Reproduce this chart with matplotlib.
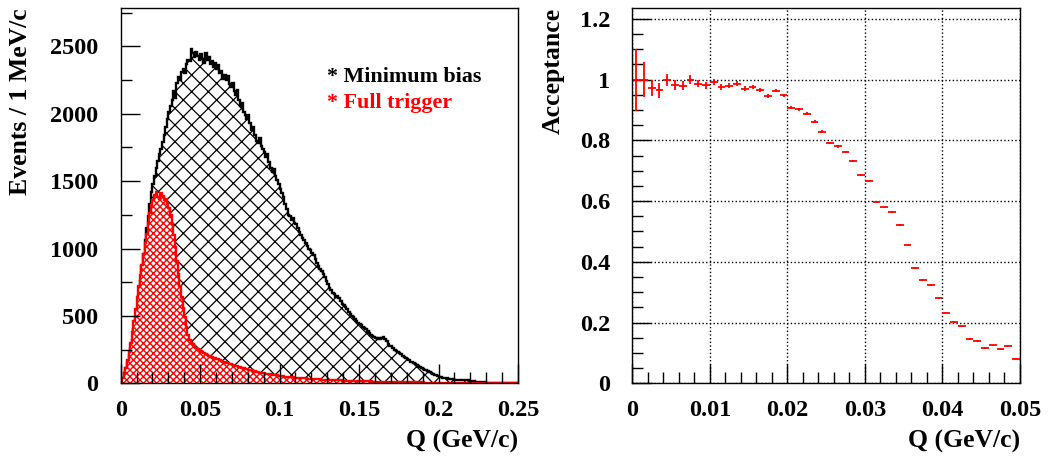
import numpy as np
import matplotlib.pyplot as plt
from matplotlib.ticker import MultipleLocator, FormatStrFormatter

# ROOT-like look: bold Times style text, inward ticks
plt.rcParams.update({
    'font.family': 'serif',
    'font.serif': ['Liberation Serif', 'DejaVu Serif'],
    'font.weight': 'bold',
    'axes.labelweight': 'bold',
    'font.size': 17.5,
    'axes.labelsize': 18.5,
    'axes.linewidth': 1.0,
    'hatch.linewidth': 0.9,
    'xtick.direction': 'in',
    'ytick.direction': 'in',
})

# ---- left panel: Q distributions, 1 MeV/c bins from 0 to 0.25 GeV/c ----
q_min, q_max, q_nbins = 0.0, 0.25, 250

min_bias = [
    15, 40, 75, 110, 160, 210, 265, 320, 400, 480,
    560, 650, 760, 860, 960, 1060, 1150, 1240, 1330, 1420,
    1480, 1540, 1600, 1650, 1700, 1740, 1790, 1840, 1900, 1960,
    2010, 2060, 2100, 2170, 2120, 2230, 2270, 2250, 2310, 2330,
    2300, 2370, 2400, 2390, 2480, 2450, 2420, 2460, 2430, 2400,
    2440, 2410, 2380, 2450, 2400, 2420, 2370, 2390, 2350, 2380,
    2330, 2360, 2300, 2320, 2260, 2290, 2250, 2280, 2220, 2200,
    2230, 2170, 2140, 2180, 2100, 2060, 2080, 2010, 1990, 1960,
    1990, 1930, 1880, 1900, 1840, 1800, 1780, 1820, 1760, 1740,
    1720, 1680, 1700, 1640, 1600, 1570, 1590, 1540, 1510, 1480,
    1440, 1410, 1380, 1330, 1290, 1250, 1240, 1210, 1230, 1190,
    1180, 1150, 1120, 1100, 1080, 1060, 1040, 1020, 1000, 990,
    970, 950, 920, 890, 870, 850, 830, 810, 790, 760,
    740, 710, 690, 670, 660, 640, 650, 630, 610, 590,
    580, 565, 550, 530, 515, 500, 490, 475, 460, 450,
    440, 430, 420, 410, 400, 385, 375, 360, 350, 340,
    335, 330, 335, 330, 335, 340, 330, 315, 295, 280,
    275, 265, 250, 240, 230, 225, 215, 205, 195, 190,
    180, 170, 160, 155, 148, 140, 135, 125, 120, 115,
    105, 100, 95, 90, 85, 78, 72, 65, 58, 52,
    48, 44, 42, 40, 38, 37, 35, 34, 32, 31,
    28, 27, 26, 25, 25, 24, 25, 24, 22, 20,
    18, 17, 15, 13, 11, 10, 9, 8, 7, 6,
    5, 5, 4, 4, 3, 3, 3, 2, 2, 2,
    2, 1, 1, 1, 1, 1, 1, 1, 0, 0,
]

full_trigger = [
    10, 40, 75, 115, 170, 230, 300, 380, 460, 550,
    640, 720, 800, 880, 960, 1040, 1110, 1190, 1260, 1320,
    1360, 1400, 1420, 1380, 1370, 1410, 1390, 1360, 1370, 1330,
    1300, 1250, 1180, 1100, 1010, 910, 810, 720, 640, 560,
    490, 420, 360, 320, 300, 290, 280, 265, 255, 250,
    240, 235, 225, 215, 210, 205, 200, 195, 190, 185,
    180, 178, 170, 165, 160, 155, 150, 150, 145, 140,
    135, 130, 128, 125, 120, 118, 115, 110, 108, 105,
    100, 98, 95, 90, 88, 85, 82, 80, 78, 76,
    74, 72, 70, 68, 66, 64, 62, 60, 58, 56,
    55, 54, 52, 50, 49, 48, 46, 45, 44, 42,
    41, 40, 39, 38, 38, 37, 36, 35, 34, 34,
    33, 32, 31, 30, 30, 29, 28, 28, 27, 26,
    26, 25, 25, 24, 24, 23, 22, 22, 21, 21,
    20, 20, 19, 19, 18, 18, 18, 17, 17, 16,
    16, 16, 15, 15, 15, 14, 14, 14, 13, 13,
    13, 12, 12, 12, 12, 11, 11, 11, 10, 10,
    10, 10, 9, 9, 9, 9, 8, 8, 8, 8,
    8, 7, 7, 7, 7, 6, 6, 6, 6, 6,
    6, 5, 5, 5, 5, 5, 5, 4, 4, 4,
    4, 4, 4, 4, 3, 3, 3, 3, 3, 3,
    3, 3, 3, 2, 2, 2, 2, 2, 2, 2,
    2, 2, 2, 2, 2, 2, 1, 1, 1, 1,
    1, 1, 1, 1, 1, 1, 1, 1, 1, 1,
    1, 1, 1, 1, 1, 0, 0, 0, 0, 0,
]

# ---- right panel: acceptance, 1 MeV/c bins from 0 to 0.05 GeV/c ----
acc_min, acc_max, acc_nbins = 0.0, 0.05, 50

acceptance = [
    1.000, 1.000, 0.972, 0.965, 1.000, 0.983, 0.980, 1.000, 0.987, 0.981,
    0.992, 0.976, 0.980, 0.987, 0.970, 0.975, 0.966, 0.946, 0.964, 0.948,
    0.908, 0.903, 0.887, 0.862, 0.828, 0.791, 0.780, 0.762, 0.733, 0.686,
    0.667, 0.596, 0.579, 0.565, 0.522, 0.454, 0.379, 0.339, 0.325, 0.281,
    0.232, 0.201, 0.188, 0.146, 0.139, 0.116, 0.125, 0.112, 0.123, 0.081,
]

acc_err = [
    0.102, 0.058, 0.027, 0.025, 0.020, 0.017, 0.015, 0.014, 0.012, 0.011,
    0.010, 0.009, 0.009, 0.008, 0.008, 0.007, 0.007, 0.007, 0.006, 0.006,
    0.006, 0.005, 0.005, 0.005, 0.005, 0.004, 0.004, 0.004, 0.004, 0.004,
    0.004, 0.003, 0.003, 0.003, 0.003, 0.003, 0.003, 0.003, 0.003, 0.003,
    0.002, 0.002, 0.002, 0.002, 0.002, 0.002, 0.002, 0.002, 0.002, 0.002,
]

q_edges = np.linspace(q_min, q_max, q_nbins + 1)
acc_edges = np.linspace(acc_min, acc_max, acc_nbins + 1)
acc_centers = 0.5 * (acc_edges[:-1] + acc_edges[1:])
acc_halfwidth = 0.5 * (acc_edges[1] - acc_edges[0])

fig = plt.figure(figsize=(10.56, 4.57), dpi=100)
ax1 = fig.add_axes([0.1143, 0.1613, 0.3762, 0.8212])
ax2 = fig.add_axes([0.5988, 0.1613, 0.3671, 0.8212])

# minimum bias: open cross-hatch
ax1.stairs(min_bias, q_edges, fill=True, facecolor='white',
           edgecolor='black', hatch='xx', linewidth=0)
ax1.stairs(min_bias, q_edges, color='black', linewidth=1.7)

# full trigger: dense red cross-hatch
red_fill = ax1.stairs(full_trigger, q_edges, fill=True, facecolor='white',
                      edgecolor='red', hatch='xxxxx', linewidth=0)
if hasattr(red_fill, 'set_hatch_linewidth'):
    red_fill.set_hatch_linewidth(1.0)
ax1.stairs(full_trigger, q_edges, color='red', linewidth=1.7)

ax1.set_xlim(q_min, q_max)
ax1.set_ylim(0, 2785)
ax1.xaxis.set_major_locator(MultipleLocator(0.05))
ax1.xaxis.set_minor_locator(MultipleLocator(0.01))
ax1.yaxis.set_major_locator(MultipleLocator(500))
ax1.yaxis.set_minor_locator(MultipleLocator(250))
ax1.xaxis.set_major_formatter(FormatStrFormatter('%g'))
ax1.tick_params(which='major', length=14, width=1, pad=12)
ax1.tick_params(which='minor', length=8, width=1)
ax1.tick_params(axis='y', which='major', pad=16)
ax1.set_xlabel('Q (GeV/c)', loc='right')
ax1.set_ylabel('Events / 1 MeV/c', loc='top')
ax1.xaxis.set_label_coords(1.0, -0.125)
ax1.yaxis.set_label_coords(-0.223, 1.0)

ax1.text(0.52, 0.816, '* Minimum bias', transform=ax1.transAxes,
         color='black', fontsize=15.8, va='center')
ax1.text(0.52, 0.747, '* Full trigger', transform=ax1.transAxes,
         color='red', fontsize=15.8, va='center')

# acceptance with error bars
ax2.errorbar(acc_centers, acceptance, xerr=acc_halfwidth, yerr=acc_err,
             fmt='none', ecolor='red', elinewidth=1.3, capsize=0)
ax2.set_xlim(acc_min, acc_max)
ax2.set_ylim(0, 1.236)
ax2.xaxis.set_major_locator(MultipleLocator(0.01))
ax2.xaxis.set_minor_locator(MultipleLocator(0.002))
ax2.yaxis.set_major_locator(MultipleLocator(0.2))
ax2.yaxis.set_minor_locator(MultipleLocator(0.05))
ax2.xaxis.set_major_formatter(FormatStrFormatter('%g'))
ax2.yaxis.set_major_formatter(FormatStrFormatter('%g'))
ax2.tick_params(which='major', length=14, width=1, pad=12)
ax2.tick_params(which='minor', length=8, width=1)
ax2.tick_params(axis='y', which='major', pad=16)
ax2.grid(True, which='major', color='black', linestyle=':', linewidth=1.0)
ax2.set_xlabel('Q (GeV/c)', loc='right')
ax2.set_ylabel('Acceptance', loc='top')
ax2.xaxis.set_label_coords(1.0, -0.125)
ax2.yaxis.set_label_coords(-0.174, 1.0)

fig.savefig('out.png', dpi=100, facecolor='white')
